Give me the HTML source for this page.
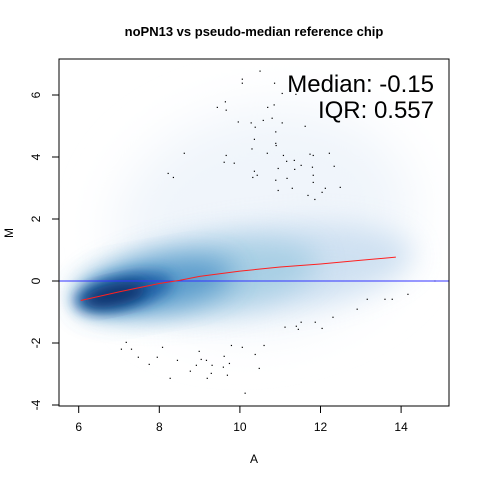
<!DOCTYPE html>
<html><head><meta charset="utf-8"><style>
body{margin:0;background:#fff}
svg text{font-family:"Liberation Sans",Arial,sans-serif;fill:#000}
</style></head><body>
<svg width="480" height="480" viewBox="0 0 480 480">
<defs>
<clipPath id="clip"><rect x="59" y="59" width="390" height="347"/></clipPath>
<filter id="b1" x="-50%" y="-50%" width="200%" height="200%"><feGaussianBlur stdDeviation="25"/></filter>
<filter id="b2" x="-50%" y="-50%" width="200%" height="200%"><feGaussianBlur stdDeviation="14"/></filter>
<filter id="b3" x="-50%" y="-50%" width="200%" height="200%"><feGaussianBlur stdDeviation="7"/></filter>
</defs>
<text x="254" y="36" text-anchor="middle" font-size="13" font-weight="bold">noPN13 vs pseudo-median reference chip</text>
<g id="plot" clip-path="url(#clip)"></g>
<g id="axes"></g>
<rect x="59" y="59" width="390" height="347" fill="none" stroke="#000" stroke-width="1"/>
<text x="254" y="463" text-anchor="middle" font-size="12">A</text>
<text transform="translate(13,233) rotate(-90)" text-anchor="middle" font-size="12">M</text>
<text x="434" y="92" text-anchor="end" font-size="24">Median: -0.15</text>
<text x="434" y="118" text-anchor="end" font-size="24">IQR: 0.557</text>
</svg>
<script>
const xTicks=[6,8,10,12,14];
const yTicks=[-4,-2,0,2,4,6];
const loessA=[6.05,7,8,8.5,9,10,11,12,13,13.87];
const loessM=[-0.63,-0.35,-0.08,0.02,0.15,0.32,0.45,0.55,0.67,0.77];
const outA=[10.50,10.06,10.06,10.86,11.05,11.39,9.64,9.44,9.66,10.69,10.85,9.96,10.28,10.38,10.58,10.80,11.05,11.62,10.89,10.36,10.89,10.90,10.30,10.68,9.66,8.62,11.08,11.74,11.82,12.22,9.61,9.86,11.16,11.35,11.52,12.34,10.95,11.36,11.80,10.36,10.43,10.32,8.22,8.35,11.82,10.89,11.17,11.82,11.30,10.95,12.12,12.49,12.04,11.69,11.86,14.84,13.16,13.60,13.78,14.17,12.91,12.31,11.52,11.87,11.12,11.40,11.45,12.04,7.18,7.06,7.31,8.08,7.48,7.95,7.75,8.45,9.79,10.06,10.60,8.99,9.04,9.17,9.61,10.38,9.74,9.31,8.92,9.59,10.48,8.77,9.29,9.69,9.19,8.27,10.13];
const outM=[6.77,6.51,6.38,6.38,6.05,6.02,5.78,5.60,5.51,5.60,5.68,5.13,5.10,4.96,5.18,5.25,5.10,4.99,4.81,4.57,4.44,4.37,4.26,4.12,4.05,4.12,4.05,4.09,4.05,4.12,3.83,3.80,3.86,3.89,3.73,3.70,3.63,3.60,3.67,3.54,3.41,3.34,3.47,3.34,3.41,3.25,3.31,3.18,2.99,2.92,2.99,3.02,2.86,2.76,2.63,0.0,-0.59,-0.59,-0.59,-0.43,-0.91,-1.17,-1.33,-1.33,-1.49,-1.46,-1.56,-1.53,-1.98,-2.20,-2.20,-2.14,-2.46,-2.46,-2.69,-2.56,-2.08,-2.14,-2.08,-2.27,-2.53,-2.56,-2.43,-2.37,-2.66,-2.72,-2.72,-2.78,-2.82,-2.91,-2.98,-3.04,-3.14,-3.14,-3.62];
const densA=[10.6,10.6,9.0,7.9,7.1,6.9];
const densM=[2.0,0.4,0.1,-0.15,-0.35,-0.45];
const NS='http://www.w3.org/2000/svg';
const sx=a=>78.7+(a-6)*40.3;
const sy=m=>281-m*31;
function mk(tag,attrs,parent){const e=document.createElementNS(NS,tag);for(const k in attrs)e.setAttribute(k,attrs[k]);parent.appendChild(e);return e;}
const plot=document.getElementById('plot'),axes=document.getElementById('axes');
const dStyle=[[150,110,'#f0f5fb',1,'b1',-10],[150,42,'#c6dbef',0.8,'b2',-6],[120,34,'#9ecae1',0.8,'b2',-8],[80,24,'#4a90c6',0.85,'b2',-10],[50,17,'#1c5ea6',0.9,'b3',-12],[32,11,'#08306b',0.95,'b3',-12]];
for(let i=0;i<densA.length;i++){
  const s=dStyle[i];
  const e=mk('ellipse',{cx:sx(densA[i]),cy:sy(densM[i]),rx:s[0],ry:s[1],fill:s[2],opacity:s[3],filter:'url(#'+s[4]+')',transform:'rotate('+s[5]+' '+sx(densA[i])+' '+sy(densM[i])+')'},plot);
  
  
}
for(let i=0;i<outA.length;i++){
  const r=mk('rect',{x:sx(outA[i])-0.6,y:sy(outM[i])-0.6,width:1.2,height:1.2,fill:'#000'},plot);
  
  
}
const hl=mk('line',{x1:59,x2:449,y1:sy(0),y2:sy(0),stroke:'#3333ff','stroke-width':1},plot);


const lp=mk('polyline',{points:loessA.map((a,i)=>sx(a)+','+sy(loessM[i])).join(' '),fill:'none',stroke:'#ff2020','stroke-width':1},plot);


xTicks.forEach(t=>{
  mk('line',{x1:sx(t),x2:sx(t),y1:406,y2:413,stroke:'#000'},axes);
  const tx=mk('text',{x:sx(t),y:431,'text-anchor':'middle','font-size':12},axes);
  tx.textContent=t;
  
  
});
yTicks.forEach(t=>{
  mk('line',{x1:52,x2:59,y1:sy(t),y2:sy(t),stroke:'#000'},axes);
  const tx=mk('text',{transform:'translate(40,'+sy(t)+') rotate(-90)','text-anchor':'middle','font-size':12},axes);
  tx.textContent=t;
  
  
});
</script>
</body></html>
